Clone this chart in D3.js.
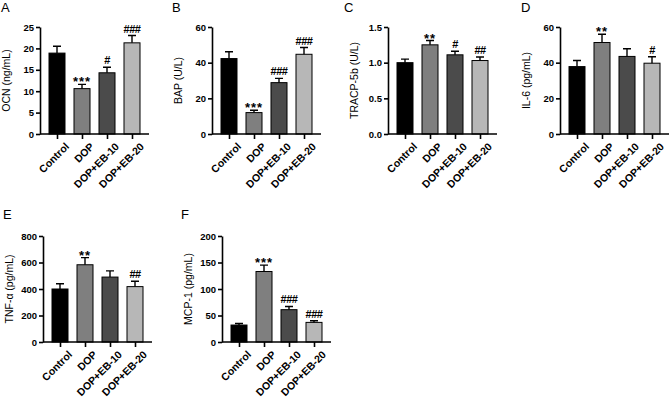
<!DOCTYPE html>
<html>
<head>
<meta charset="utf-8">
<script src="https://cdn.jsdelivr.net/npm/d3@7"></script>
<style>
  body { margin: 0; background: #fff; }
  svg { font-family: "Liberation Sans", Arial, sans-serif; }
</style>
</head>
<body>
<div id="chart"></div>
<script>
// groups and fills shared by every panel
var groups = ["Control", "DOP", "DOP+EB-10", "DOP+EB-20"];
var fills = ["#000000", "#7f7f7f", "#4b4b4b", "#b7b7b7"];

// values (mean, upper error)
var ocnMean = [18.9, 10.6, 14.3, 21.3];
var ocnErr = [1.6, 1.0, 1.3, 1.7];
var ocnMarks = ["", "***", "#", "###"];

var bapMean = [42.3, 12.0, 28.8, 44.7];
var bapErr = [3.8, 1.3, 2.4, 3.8];
var bapMarks = ["", "***", "###", "###"];

var tracpMean = [1.00, 1.25, 1.11, 1.03];
var tracpErr = [0.05, 0.06, 0.05, 0.05];
var tracpMarks = ["", "**", "#", "##"];

var il6Mean = [37.8, 51.3, 43.5, 39.7];
var il6Err = [3.4, 4.6, 4.3, 3.6];
var il6Marks = ["", "**", "", "#"];

var tnfMean = [400, 583, 490, 418];
var tnfErr = [40, 54, 47, 40];
var tnfMarks = ["", "**", "", "##"];

var mcpMean = [32, 133, 61, 37];
var mcpErr = [3, 12, 6, 3];
var mcpMarks = ["", "***", "###", "###"];

var panels = [
  { letter: "A", title: "OCN (ng/mL)", mean: ocnMean, err: ocnErr, marks: ocnMarks,
    ticks: [0, 5, 10, 15, 20, 25], fmt: d3.format("d"), x: 40, top: 27, bottom: 134, lx: 1, ly: 12 },
  { letter: "B", title: "BAP (U/L)", mean: bapMean, err: bapErr, marks: bapMarks,
    ticks: [0, 20, 40, 60], fmt: d3.format("d"), x: 212, top: 27, bottom: 134, lx: 172, ly: 12 },
  { letter: "C", title: "TRACP-5b (U/L)", mean: tracpMean, err: tracpErr, marks: tracpMarks,
    ticks: [0, 0.5, 1.0, 1.5], fmt: d3.format(".1f"), x: 388, top: 27, bottom: 134, lx: 344, ly: 12 },
  { letter: "D", title: "IL-6 (pg/mL)", mean: il6Mean, err: il6Err, marks: il6Marks,
    ticks: [0, 20, 40, 60], fmt: d3.format("d"), x: 560, top: 27, bottom: 134, lx: 521, ly: 12 },
  { letter: "E", title: "TNF-\u03b1 (pg/mL)", mean: tnfMean, err: tnfErr, marks: tnfMarks,
    ticks: [0, 200, 400, 600, 800], fmt: d3.format("d"), x: 43, top: 236, bottom: 342, lx: 3, ly: 219 },
  { letter: "F", title: "MCP-1 (pg/mL)", mean: mcpMean, err: mcpErr, marks: mcpMarks,
    ticks: [0, 50, 100, 150, 200], fmt: d3.format("d"), x: 222, top: 236, bottom: 342, lx: 181, ly: 219 }
];

var svg = d3.select("#chart").append("svg")
    .attr("width", 669)
    .attr("height", 397);

var barWidth = 16;

panels.forEach(function(p) {
  var g = svg.append("g");

  var y = d3.scaleLinear()
      .domain([0, p.ticks[p.ticks.length - 1]])
      .range([p.bottom, p.top]);

  var x = d3.scalePoint()
      .domain(groups)
      .range([p.x, p.x + 109])
      .padding(0.68);

  var rows = groups.map(function(name, i) {
    return { name: name, mean: p.mean[i], err: p.err[i], mark: p.marks[i], fill: fills[i] };
  });

  // bars
  g.selectAll(".bar")
      .data(rows)
    .enter().append("rect")
      .attr("class", "bar")
      .attr("x", function(d) { return x(d.name) - barWidth / 2; })
      .attr("y", function(d) { return y(d.mean); })
      .attr("width", barWidth)
      .attr("height", function(d) { return y(0) - y(d.mean); })
      .attr("fill", function(d) { return d.fill; })
      .attr("stroke", "#000")
      .attr("stroke-width", 1);

  // upper error bars with caps
  g.selectAll(".err")
      .data(rows)
    .enter().append("path")
      .attr("class", "err")
      .attr("fill", "none")
      .attr("stroke", "#000")
      .attr("stroke-width", 1.4)
      .attr("d", function(d) {
        var cx = x(d.name), t = y(d.mean + d.err);
        return "M" + cx + "," + y(d.mean) + "V" + t + "M" + (cx - 4) + "," + t + "H" + (cx + 4);
      });

  // significance marks
  g.selectAll(".mark")
      .data(rows)
    .enter().append("text")
      .attr("class", "mark")
      .attr("x", function(d) { return x(d.name); })
      .attr("y", function(d) { return y(d.mean + d.err) - (d.mark.charAt(0) === "*" ? -2 : 3); })
      .attr("text-anchor", "middle")
      .attr("font-size", function(d) { return d.mark.charAt(0) === "*" ? "13px" : "11px"; })
      .attr("letter-spacing", function(d) { return d.mark.charAt(0) === "*" ? "1px" : "-0.5px"; })
      .attr("font-weight", "bold")
      .text(function(d) { return d.mark; });

  // y axis
  var yAxis = g.append("g")
      .attr("transform", "translate(" + p.x + ",0)")
      .call(d3.axisLeft(y).tickValues(p.ticks).tickFormat(p.fmt).tickSize(4).tickSizeOuter(0).tickPadding(2));

  // x axis
  var xAxis = g.append("g")
      .attr("transform", "translate(0," + p.bottom + ")")
      .call(d3.axisBottom(x).tickSize(5).tickSizeOuter(0));

  xAxis.select(".domain").attr("d", "M" + p.x + ",0H" + (p.x + 109));

  [yAxis, xAxis].forEach(function(a) {
    a.selectAll(".domain, .tick line").attr("stroke", "#000").attr("stroke-width", 1.6);
    a.selectAll(".tick text")
        .attr("fill", "#000")
        .attr("font-size", "9.5px")
        .attr("font-weight", "bold")
        .style("font-family", "'Liberation Sans', Arial, sans-serif");
  });

  xAxis.selectAll(".tick text")
      .attr("text-anchor", "end")
      .attr("font-size", "10.5px")
      .attr("dy", "0.35em")
      .attr("transform", "translate(4,5) rotate(-45)");

  // axis title
  g.append("text")
      .attr("transform", "translate(" + (p.x - 30) + "," + ((p.top + p.bottom) / 2) + ") rotate(-90)")
      .attr("text-anchor", "middle")
      .attr("font-size", "10.5px")
      .text(p.title);

  // panel letter
  g.append("text")
      .attr("x", p.lx)
      .attr("y", p.ly)
      .attr("font-size", "13px")
      .text(p.letter);
});
</script>
</body>
</html>
